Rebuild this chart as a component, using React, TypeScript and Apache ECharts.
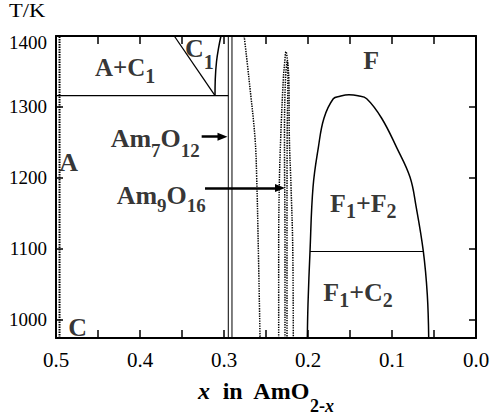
import React, { useEffect, useRef } from 'react';
import * as echarts from 'echarts';

const FONT = 'Liberation Serif';

// axis ranges (x in AmO2-x, reversed; T in K)
const xMin = 0;
const xMax = 0.5;
const xStep = 0.1;
const yMin = 974;
const yMax = 1400;

// phase boundaries, points are [x, T/K]
const aPhaseBoundary = [[0.4958, 974], [0.4958, 1400]];
const eutectoidLine = [[0.5, 1316], [0.2949, 1316]];
const c1Diagonal = [[0.3592, 1400], [0.3107, 1316]];
const c1Boundary = [[0.3107, 1316], [0.3104, 1339], [0.3089, 1364], [0.3065, 1383], [0.3036, 1400]];
const am7o12Left = [[0.2949, 974], [0.2949, 1400]];
const am7o12Right = [[0.2905, 974], [0.2905, 1400]];
const dottedCurve = [[0.276, 1400], [0.2702, 1339], [0.2631, 1256], [0.2611, 1201], [0.2592, 1104], [0.2571, 974]];
const outerLoop = [
  [0.2349, 974], [0.2349, 1104], [0.2342, 1187], [0.2325, 1256], [0.2294, 1339], [0.2278, 1362],
  [0.2262, 1378], [0.2247, 1368], [0.2228, 1339], [0.2222, 1256], [0.2202, 1187], [0.2182, 1104], [0.2175, 974],
];
const innerLoop = [
  [0.2274, 974], [0.2274, 1104], [0.228, 1256], [0.2268, 1339], [0.2246, 1364],
  [0.224, 1339], [0.2248, 1256], [0.225, 1104], [0.225, 974],
];
const fluoriteDome = [
  [0.2008, 974], [0.2, 1021.7], [0.1976, 1096.2], [0.194, 1187], [0.1877, 1242.5], [0.181, 1284],
  [0.1699, 1311.5], [0.1619, 1315], [0.1512, 1317], [0.1405, 1315.6], [0.1301, 1311.5], [0.1123, 1284],
  [0.0944, 1242.5], [0.0786, 1201], [0.0714, 1160], [0.0627, 1096.2], [0.058, 1035.5], [0.0563, 974],
];
const tieLine = [[0.1976, 1096], [0.0627, 1096]];

// arrows pointing at the ordered phases
const arrows = [
  { from: [0.3266, 1258], to: [0.3018, 1258] },
  { from: [0.3226, 1185.5], to: [0.2333, 1185.5] },
];

// phase-field labels: text parts (m = main, s = subscript), anchor (left, middle)
const labels = [
  { parts: [['A+C', 'm'], ['1', 's']], at: [0.4536, 1355], size: 25, sub: 20, drop: 8 },
  { parts: [['C', 'm'], ['1', 's']], at: [0.3464, 1381.8], size: 26, sub: 20, drop: 13 },
  { parts: [['A', 'm']], at: [0.4961, 1222], size: 26, sub: 20, drop: 8 },
  { parts: [['C', 'm']], at: [0.4854, 989.5], size: 26, sub: 20, drop: 8 },
  { parts: [['Am', 'm'], ['7', 's'], ['O', 'm'], ['12', 's']], at: [0.4349, 1255.1], size: 26, sub: 19, drop: 12 },
  { parts: [['Am', 'm'], ['9', 's'], ['O', 'm'], ['16', 's']], at: [0.4278, 1175.5], size: 26, sub: 19, drop: 10 },
  { parts: [['F', 'm']], at: [0.1342, 1365.5], size: 26, sub: 20, drop: 8 },
  { parts: [['F', 'm'], ['1', 's'], ['+F', 'm'], ['2', 's']], at: [0.1738, 1163.1], size: 26, sub: 20, drop: 7.5 },
  { parts: [['F', 'm'], ['1', 's'], ['+C', 'm'], ['2', 's']], at: [0.1818, 1037.8], size: 26, sub: 20, drop: 7.5 },
];

const lineSeries = (data: number[][], width: number, dotted = false, smooth: number | boolean = false, extra: any = {}) => ({
  type: 'line',
  data,
  symbol: 'none',
  showSymbol: false,
  smooth,
  silent: true,
  clip: true,
  lineStyle: { color: '#000', width, type: dotted ? [1.4, 1.1] : 'solid' },
  z: 3,
  ...extra,
});

const tickStyle = { color: '#000', width: 1.5 };

const xAxisBase = {
  type: 'value',
  min: xMin,
  max: xMax,
  interval: xStep,
  inverse: true,
  splitLine: { show: false },
  minorSplitLine: { show: false },
  axisLine: { show: true, onZero: false, lineStyle: { color: '#000', width: 2 } },
  axisTick: { show: true, inside: true, length: 8, lineStyle: tickStyle },
  minorTick: { show: true, splitNumber: 2, length: 8, lineStyle: tickStyle },
};

const yAxisBase = {
  type: 'value',
  min: yMin,
  max: yMax,
  splitLine: { show: false },
  axisLine: { show: true, onZero: false, lineStyle: { color: '#000', width: 2 } },
  axisTick: { show: true, inside: true, length: 7, lineStyle: tickStyle },
};

function buildOption() {
  const labelData = labels.map((l) => {
    const L = 2 * (l.drop + l.sub / 2);
    return {
      value: l.at,
      label: {
        formatter: l.parts.map(([t, k]) => `{${k}|${t}}`).join(''),
        fontFamily: FONT,
        fontWeight: 'bold',
        fontSize: l.size,
        rich: {
          m: { fontSize: l.size, fontWeight: 'bold', fontFamily: FONT, color: '#000', lineHeight: L },
          s: { fontSize: l.sub, fontWeight: 'bold', fontFamily: FONT, color: '#000', lineHeight: l.sub, verticalAlign: 'bottom' },
        },
      },
    };
  });

  return {
    animation: false,
    backgroundColor: '#fff',
    textStyle: { fontFamily: FONT },
    grid: { left: 56, right: 21, top: 36, bottom: 75, containLabel: false },
    xAxis: [
      {
        ...xAxisBase,
        position: 'bottom',
        axisLabel: {
          show: true,
          margin: 11,
          fontSize: 21,
          fontFamily: FONT,
          color: '#000',
          formatter: (v: number) => v.toFixed(1),
        },
        name: '{i|x}{b|  in  AmO}{s|2-}{si|x}',
        nameLocation: 'middle',
        nameGap: 29,
        nameTextStyle: {
          color: '#000',
          fontFamily: FONT,
          fontWeight: 'bold',
          fontSize: 24,
          rich: {
            i: { fontSize: 24, fontStyle: 'italic', fontWeight: 'bold', fontFamily: FONT, color: '#000', lineHeight: 48 },
            b: { fontSize: 24, fontWeight: 'bold', fontFamily: FONT, color: '#000', lineHeight: 48 },
            s: { fontSize: 18, fontWeight: 'bold', fontFamily: FONT, color: '#000', lineHeight: 18, verticalAlign: 'bottom' },
            si: { fontSize: 18, fontStyle: 'italic', fontWeight: 'bold', fontFamily: FONT, color: '#000', lineHeight: 18, verticalAlign: 'bottom' },
          },
        },
      },
      { ...xAxisBase, position: 'top', axisLabel: { show: false } },
    ],
    yAxis: [
      {
        ...yAxisBase,
        position: 'left',
        axisLabel: {
          show: true,
          showMinLabel: false,
          margin: 9,
          fontSize: 19,
          fontFamily: FONT,
          color: '#000',
          formatter: (v: number) => (v === 1400 ? '{t|1400}' : String(v)),
          rich: { t: { fontSize: 19, fontFamily: FONT, color: '#000', padding: [12, 0, 0, 0] } },
        },
      },
      { ...yAxisBase, position: 'right', axisLabel: { show: false } },
    ],
    graphic: [
      {
        type: 'text',
        x: 9,
        y: 11,
        scaleX: 1.25,
        style: { text: 'T/K', fontSize: 18, fontFamily: FONT, fill: '#000', align: 'left', verticalAlign: 'middle' },
      },
    ],
    series: [
      lineSeries(aPhaseBoundary, 2, true),
      lineSeries(eutectoidLine, 1.2, false, false, {
        markLine: {
          silent: true,
          animation: false,
          symbol: ['none', 'triangle'],
          symbolSize: [8, 10],
          label: { show: false },
          lineStyle: { color: '#000', width: 2.5, type: 'solid' },
          data: arrows.map((a) => [{ coord: a.from }, { coord: a.to }]),
        },
      }),
      lineSeries(c1Diagonal, 1.3),
      lineSeries(c1Boundary, 1.5, false, 0.4),
      lineSeries(am7o12Left, 1),
      lineSeries(am7o12Right, 1),
      lineSeries(dottedCurve, 1.5, true, 0.4),
      lineSeries(outerLoop, 1.5, true, 0.4),
      lineSeries(innerLoop, 1.5, true, 0.4),
      lineSeries(fluoriteDome, 1.5, false, 0.4),
      lineSeries(tieLine, 1),
      {
        type: 'scatter',
        symbolSize: 0,
        silent: true,
        z: 5,
        itemStyle: { color: 'transparent' },
        label: { show: true, position: 'right', distance: 0, color: '#000', fontFamily: FONT },
        data: labelData,
      },
    ],
  };
}

export default function App() {
  const ref = useRef<HTMLDivElement>(null);
  useEffect(() => {
    if (!ref.current) return;
    const chart = echarts.init(ref.current, null, { renderer: 'svg' });
    chart.setOption(buildOption() as any);
    return () => chart.dispose();
  }, []);
  return (
    <div
      ref={ref}
      style={{ position: 'fixed', left: 0, top: 0, width: 497, height: 420, background: '#fff' }}
    />
  );
}
